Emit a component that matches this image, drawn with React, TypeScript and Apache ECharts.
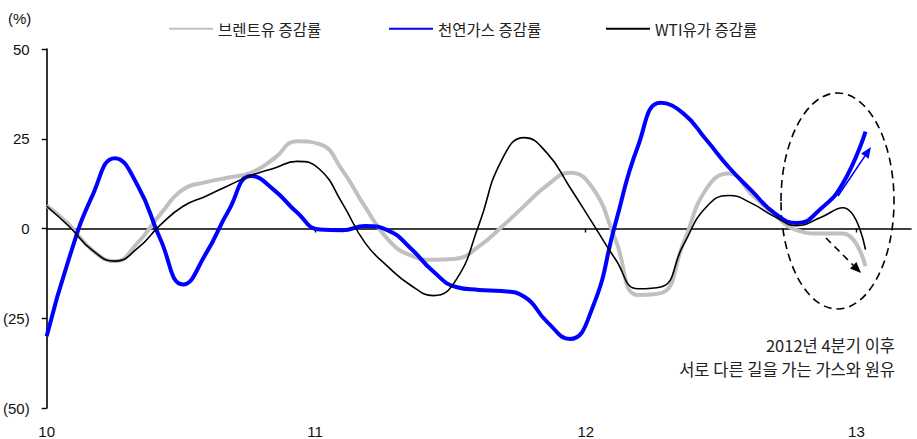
import React, { useEffect, useRef } from 'react';
import * as echarts from 'echarts';

// Monthly positions, Jan 2010 = 0
const monthIndex = [
  0, 1, 2, 3, 4, 5, 6, 7, 8, 9, 10, 11, 12, 13, 14, 15, 16, 17, 18,
  19, 20, 21, 22, 23, 24, 25, 26, 27, 28, 29, 30, 31, 32, 33, 34, 35, 36,
];

// Year-on-year change (%)
const brent = [
  6.4, 1, -6, -9.1, -4, 4, 10.9, 12.9, 14.2, 15.6, 19.5, 24.3, 23.5, 16.2, 6, -3,
  -7.5, -8.7, -8.4, -5, 0.4, 6.3, 12, 15.5, 11.3, -3, -18.5, -18, -4, 11, 15.3,
  9.5, 3.8, -0.5, -1.4, -1.4, -10.5,
];
const gas = [
  -30, -8, 9, 19.6, 12, -3, -15.6, -7, 5, 14.6, 10.7, 4.5, -0.3, -0.5, 0.7, -0.5,
  -5.5, -12, -16.3, -17.1, -17.4, -19, -26, -30.8, -22, 1.3, 23, 35, 32, 24.7,
  17, 10.5, 4.3, 1.5, 5.3, 12.5, 27,
];
const wti = [
  6.2, 0.5, -6, -9.1, -5.5, 1, 6.2, 9, 12, 14.8, 16.8, 18.7, 16.5, 7, -4,
  -10.6, -15.8, -18.7, -14.3, 1, 19, 25.3, 21, 11.5, 1.5, -8.5, -16.8, -16.3,
  -4.5, 6, 9.2, 7, 3.3, 0.8, 3, 5.8, -5.9,
];

const seriesNames = ['브렌트유 증감률', '천연가스 증감률', 'WTI유가 증감률'];
const seriesColors = ['#C0C0C0', '#0000FF', '#000000'];
const seriesWidths = [4, 4, 1.6];
const legendLeft = [163, 383, 600];

// Year tick positions on the month scale and their labels
const yearTickPos = [0, 11.8, 23.7, 35.6];
const yearLabels = ['10', '11', '12', '13'];

const noteLines = ['2012년 4분기 이후', '서로 다른 길을 가는 가스와 원유'];

const NARROW = "'Liberation Sans Narrow', 'Liberation Sans', Arial, sans-serif";
const KR = "'Noto Sans CJK KR', 'Noto Sans', sans-serif";

function arrow(
  x1: number, y1: number, x2: number, y2: number,
  color: string, dashed: boolean, headLen = 11, headHalf = 4.5,
) {
  const a = Math.atan2(y2 - y1, x2 - x1);
  const bx = x2 - headLen * Math.cos(a);
  const by = y2 - headLen * Math.sin(a);
  const px = -Math.sin(a) * headHalf;
  const py = Math.cos(a) * headHalf;
  return [
    {
      type: 'line',
      shape: { x1, y1, x2: bx, y2: by },
      style: { stroke: color, lineWidth: 1.6, lineDash: dashed ? [7, 5] : null },
      silent: true,
    },
    {
      type: 'polygon',
      shape: { points: [[x2, y2], [bx + px, by + py], [bx - px, by - py]] },
      style: { fill: color },
      silent: true,
    },
  ];
}

export default function App() {
  const ref = useRef<HTMLDivElement>(null);

  useEffect(() => {
    if (!ref.current) return;
    const chart = echarts.init(ref.current, null, { renderer: 'svg' });
    const seriesData = [brent, gas, wti];

    chart.setOption({
      animation: false,
      backgroundColor: '#fff',
      grid: { left: 43, right: 6, top: 49, bottom: 31, containLabel: false },
      legend: seriesNames.map((n, i) => ({
        data: [n],
        left: legendLeft[i],
        top: 16,
        itemWidth: 44,
        itemHeight: 14,
        itemGap: 0,
        // line-only legend keys
        itemStyle: { opacity: 0 },
        textStyle: { fontSize: 15.5, fontFamily: KR, color: '#222' },
      })),
      xAxis: [
        {
          type: 'value',
          min: 0,
          max: 38,
          axisLine: { onZero: true, lineStyle: { color: '#000', width: 1.6 } },
          axisTick: {
            show: true,
            customValues: yearTickPos.slice(1),
            length: 4,
            lineStyle: { color: '#000', width: 1.4 },
          },
          axisLabel: { show: false },
          splitLine: { show: false },
        },
        {
          type: 'value',
          min: 0,
          max: 38,
          position: 'bottom',
          axisLine: { show: false, onZero: false },
          axisTick: { show: false },
          axisLabel: {
            customValues: yearTickPos,
            formatter: (v: number) => {
              const i = yearTickPos.findIndex((p) => Math.abs(p - v) < 1e-6);
              return i >= 0 ? yearLabels[i] : '';
            },
            margin: 16,
            fontSize: 15,
            fontFamily: NARROW,
            color: '#111',
          },
          splitLine: { show: false },
        },
      ],
      yAxis: {
        type: 'value',
        min: -50,
        max: 50,
        interval: 25,
        axisLine: { show: true, lineStyle: { color: '#000', width: 1.6 } },
        axisTick: { show: true, length: 5, lineStyle: { color: '#000', width: 1.4 } },
        axisLabel: {
          formatter: (v: number) => (v < 0 ? `(${-v})` : `${v}`),
          margin: 17,
          fontSize: 15,
          fontFamily: NARROW,
          color: '#111',
        },
        splitLine: { show: false },
      },
      series: seriesNames.map((n, i) => ({
        name: n,
        type: 'line',
        xAxisIndex: 0,
        symbol: 'none',
        smooth: true,
        z: 2 + i,
        data: monthIndex.map((m, k) => [m, seriesData[i][k]]),
        lineStyle: { color: seriesColors[i], width: seriesWidths[i] },
        itemStyle: { color: seriesColors[i] },
      })),
      graphic: [
        {
          type: 'text',
          x: 8,
          y: 18,
          style: { text: '(%)', fontSize: 15, fontFamily: NARROW, fill: '#111', align: 'left', verticalAlign: 'middle' },
        },
        {
          type: 'ellipse',
          shape: { cx: 837.5, cy: 201, rx: 56.5, ry: 108 },
          style: { fill: 'none', stroke: '#000', lineWidth: 1.6, lineDash: [8, 5] },
          silent: true,
        },
        ...arrow(838, 196, 871, 147, '#0000FF', false),
        ...arrow(826, 238, 861, 273, '#000', true),
        ...noteLines.map((t, i) => ({
          type: 'text',
          x: 895,
          y: 345 + i * 24,
          style: { text: t, fontSize: 16.5, fontFamily: KR, fill: '#222', align: 'right', verticalAlign: 'middle' },
        })),
      ],
    });

    return () => chart.dispose();
  }, []);

  return (
    <div
      ref={ref}
      style={{ position: 'fixed', left: 0, top: 0, width: 917, height: 439 }}
    />
  );
}
